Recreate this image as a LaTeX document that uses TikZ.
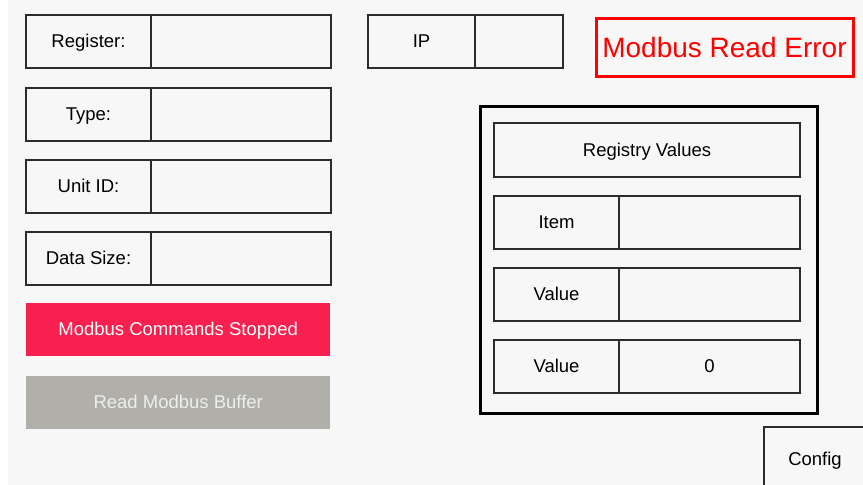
\documentclass[tikz,border=0pt]{standalone}
\usepackage{fontspec}
\setmainfont{Liberation Sans}
\definecolor{bg}{HTML}{F7F7F7}
\definecolor{edge}{HTML}{2B2B2B}
\definecolor{stopred}{HTML}{F8204F}
\definecolor{btngray}{HTML}{B0AFA9}
\definecolor{btntext}{HTML}{EEEEEE}
\definecolor{errred}{HTML}{FF0000}
\begin{document}
\begin{tikzpicture}[x=1pt,y=-1pt,
  cell/.style={draw=edge, line width=1.3pt, rectangle, anchor=north west, outer sep=0pt, inner sep=0pt,
    font=\fontsize{18.5}{22}\selectfont, text=black, text depth=1pt},
  lblcell/.style={cell, minimum width=125pt, minimum height=53pt},
  valcell/.style={cell, minimum width=180pt, minimum height=53pt},
  btn/.style={rectangle, anchor=north west, inner sep=0pt, minimum width=304pt, minimum height=53pt,
    font=\fontsize{18.5}{22}\selectfont, text depth=1pt}]
\fill[white] (0,0) rectangle (863,485);
\fill[bg] (8,0) rectangle (863,485);
\useasboundingbox (0,0) rectangle (863,485);
\clip (0,0) rectangle (863,485);
% left column
\node[lblcell] (regl) at (26,15) {Register:};
\node[valcell] (regv) at (151,15) {};
\node[lblcell] (typel) at (26,88) {Type:};
\node[valcell] (typev) at (151,88) {};
\node[lblcell] (unitl) at (26,160) {Unit ID:};
\node[valcell] (unitv) at (151,160) {};
\node[lblcell] (sizel) at (26,232) {Data Size:};
\node[valcell] (sizev) at (151,232) {};
\node[btn, fill=stopred, text=white] (stop) at (26,303) {Modbus Commands Stopped};
\node[btn, fill=btngray, text=btntext] (read) at (26,376) {Read Modbus Buffer};
% IP
\node[cell, minimum width=107pt, minimum height=53pt] (ipl) at (368,15) {IP};
\node[cell, minimum width=88pt, minimum height=53pt] (ipv) at (475,15) {};
% error
\node[draw=errred, line width=3pt, rectangle, anchor=north west, inner sep=0pt,
  minimum width=257pt, minimum height=58pt, text=errred,
  font=\fontsize{28}{32}\selectfont] (err) at (594.5,16.5) {Modbus Read Error};
% registry frame
\node[draw=black, line width=3pt, rectangle, anchor=north west, inner sep=0pt,
  minimum width=337pt, minimum height=307pt] (frame) at (478.5,104.5) {};
\node[cell, minimum width=306pt, minimum height=54pt] (title) at (494,123) {Registry Values};
\node[cell, minimum width=125pt, minimum height=53pt] (iteml) at (494,196) {Item};
\node[cell, minimum width=181pt, minimum height=53pt] (itemv) at (619,196) {};
\node[cell, minimum width=125pt, minimum height=53pt] (val1l) at (494,268) {Value};
\node[cell, minimum width=181pt, minimum height=53pt] (val1v) at (619,268) {};
\node[cell, minimum width=125pt, minimum height=53pt] (val2l) at (494,340) {Value};
\node[cell, minimum width=181pt, minimum height=53pt] (val2v) at (619,340) {0};
% config
\node[cell, minimum width=102pt, minimum height=64pt] (config) at (764,427) {Config};
\end{tikzpicture}
\end{document}
